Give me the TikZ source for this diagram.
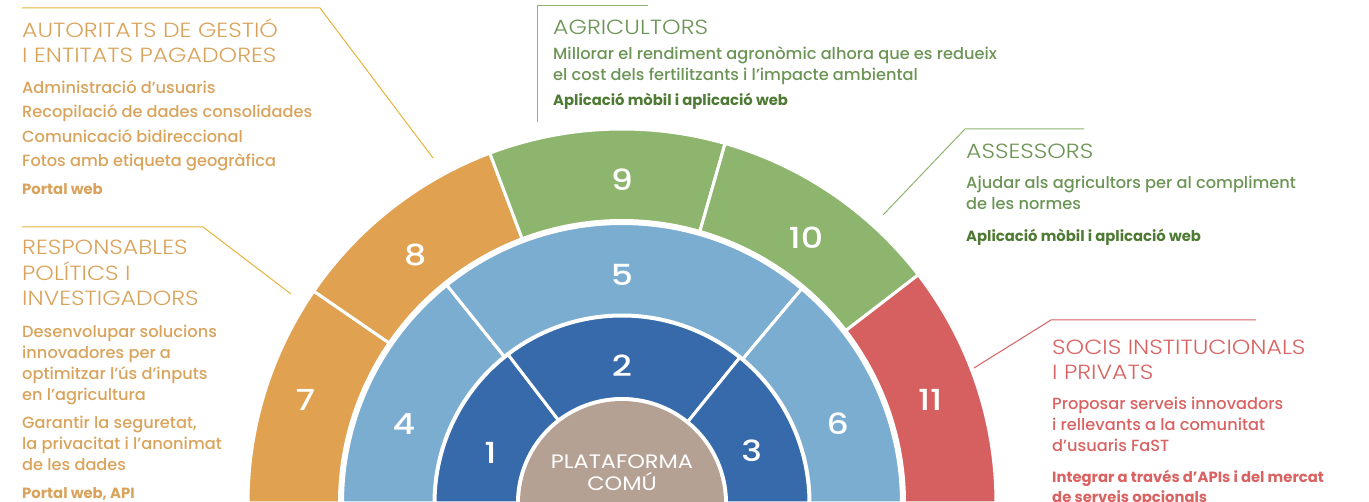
\documentclass[tikz,border=0pt]{standalone}
\usepackage{fontspec}
\setmainfont{Poppins}
\IfFontExistsTF{Poppins Light}{\newfontfamily\lightfont{Poppins Light}[FakeStretch=1.15]}{\newfontfamily\lightfont{Poppins}[FakeStretch=1.15]}
\IfFontExistsTF{Poppins Medium}{\newfontfamily\medfont{Poppins Medium}}{\newfontfamily\medfont{Poppins}}
\IfFontExistsTF{Poppins Medium}{\newfontfamily\numfont{Poppins Medium}[FakeStretch=1.2]}{\newfontfamily\numfont{Poppins}[FakeStretch=1.2]}
\newfontfamily\hubfont{Poppins}[FakeStretch=1.15]
\IfFontExistsTF{Poppins Bold}{\newfontfamily\semifont{Poppins Bold}}{\newfontfamily\semifont{Poppins}[FakeBold=2]}

\definecolor{orng}{HTML}{E0A150}
\definecolor{orngtxt}{HTML}{D9A35B}
\definecolor{orngln}{HTML}{E6B43C}
\definecolor{grn}{HTML}{8DB56E}
\definecolor{grntxt}{HTML}{6B9455}
\definecolor{grndark}{HTML}{4F7A33}
\definecolor{rd}{HTML}{D66060}
\definecolor{rdtxt}{HTML}{D96262}
\definecolor{ltblue}{HTML}{7BADD1}
\definecolor{dkblue}{HTML}{376AAB}
\definecolor{hubtan}{HTML}{B5A193}

% one piece of a ring: start angle, end angle, inner radius, outer radius, colour
\newcommand{\ringseg}[5]{\fill[#5, segline] (#1:#3) arc[start angle=#1, end angle=#2, radius=#3] -- (#2:#4) arc[start angle=#2, end angle=#1, radius=#4] -- cycle;}

\tikzset{
  segline/.style={draw=white, line width=3pt},
  num/.style={text=white, inner sep=0pt, font=\numfont\fontsize{29}{29}\selectfont},
  head/.style={anchor=base west, inner sep=0pt, align=left, font=\lightfont\fontsize{20.5}{25.5}\selectfont},
  body/.style={anchor=base west, inner sep=0pt, align=left, font=\medfont\fontsize{16.2}{21}\selectfont},
  tool/.style={anchor=base west, inner sep=0pt, align=left, font=\semifont\fontsize{14.8}{20}\selectfont},
  callout/.style={line width=1pt},
}

\begin{document}
\begin{tikzpicture}[x=1pt, y=1pt]
    \useasboundingbox (0,0) rectangle (1369,502);

    % the rings
    \begin{scope}[shift={(622,-1)}]
        \ringseg{180}{145.5}{282.5}{374}{orng}
        \ringseg{145.5}{110.7}{282.5}{374}{orng}
        \ringseg{110.7}{74}{282.5}{374}{grn}
        \ringseg{74}{37.6}{282.5}{374}{grn}
        \ringseg{37.6}{0}{282.5}{374}{rd}

        \ringseg{180}{128.8}{188}{279.5}{ltblue}
        \ringseg{128.8}{50}{188}{279.5}{ltblue}
        \ringseg{50}{0}{188}{279.5}{ltblue}

        \ringseg{180}{127.5}{104.5}{187}{dkblue}
        \ringseg{127.5}{51}{104.5}{187}{dkblue}
        \ringseg{51}{0}{104.5}{187}{dkblue}

        \fill[hubtan] (0,0) circle[radius=102];

        \node[num] (n1) at (159:141) {1};
        \node[num] (n2) at (90:137) {2};
        \node[num] (n3) at (22:140) {3};
        \node[num] (n4) at (160:232) {4};
        \node[num] (n5) at (90:228) {5};
        \node[num] (n6) at (20.3:230) {6};
        \node[num] (n7) at (162:333) {7};
        \node[num] (n8) at (129.8:323) {8};
        \node[num] (n9) at (90:323) {9};
        \node[num] (n10) at (55.3:323) {10};
        \node[num] (n11) at (18.5:325) {11};

        \node[text=white, align=center, font=\hubfont\fontsize{19.5}{22}\selectfont] (hub) at (0,30) {PLATAFORMA\\COMÚ};
    \end{scope}

    % callout lines
    \coordinate (autS) at (22,494);
    \coordinate (autK) at (320,494);
    \coordinate (autE) at (433,344);
    \draw[callout, orngln] (autS) -- (autK) -- (autE);

    \coordinate (resS) at (22,275);
    \coordinate (resK) at (203,275);
    \coordinate (resE) at (291,208);
    \draw[callout, orngln] (resS) -- (resK) -- (resE);

    \coordinate (agrS) at (537,380);
    \coordinate (agrK) at (537,496);
    \coordinate (agrE) at (648,496);
    \draw[callout, grn] (agrS) -- (agrK) -- (agrE);

    \coordinate (assS) at (883,287);
    \coordinate (assK) at (965,373);
    \coordinate (assE) at (1084,373);
    \draw[callout, grn] (assS) -- (assK) -- (assE);

    \coordinate (socS) at (974,134);
    \coordinate (socK) at (1051,182);
    \coordinate (socE) at (1256,182);
    \draw[callout, rd] (socS) -- (socK) -- (socE);

    % texts (base = last line)
    \node[head, text=orngtxt] (autT) at (22,439) {AUTORITATS DE GESTIÓ\\I ENTITATS PAGADORES};
    \node[body, text=orngtxt] (autB) at (22,335) {Administració d’usuaris\\[3.5pt]Recopilació de dades consolidades\\[3.5pt]Comunicació bidireccional\\[3.5pt]Fotos amb etiqueta geogràfica};
    \node[tool, text=orngtxt] (autW) at (22,307) {Portal web};

    \node[head, text=orngtxt] (resT) at (22,196) {RESPONSABLES\\POLÍTICS I\\INVESTIGADORS};
    \node[body, text=orngtxt] (resB) at (22,31) {Desenvolupar solucions\\innovadores per a\\optimitzar l’ús d’inputs\\en l’agricultura\\[7pt]Garantir la seguretat,\\la privacitat i l’anonimat\\de les dades};
    \node[tool, text=orngtxt] (resW) at (22,3) {Portal web, API};

    \node[head, text=grntxt] (agrT) at (553,467) {AGRICULTORS};
    \node[body, text=grntxt] (agrB) at (553,421) {Millorar el rendiment agronòmic alhora que es redueix\\el cost dels fertilitzants i l’impacte ambiental};
    \node[tool, text=grndark] (agrW) at (553,396) {Aplicació mòbil i aplicació web};

    \node[head, text=grntxt] (assT) at (966,343) {ASSESSORS};
    \node[body, text=grntxt] (assB) at (966,292) {Ajudar als agricultors per al compliment\\de les normes};
    \node[tool, text=grndark] (assW) at (966,260) {Aplicació mòbil i aplicació web};

    \node[head, text=rdtxt] (socT) at (1052,122) {SOCIS INSTITUCIONALS\\I PRIVATS};
    \node[body, text=rdtxt] (socB) at (1052,50) {Proposar serveis innovadors\\i rellevants a la comunitat\\d’usuaris FaST};
    \node[tool, text=rdtxt] (socW) at (1052,-1) {Integrar a través d’APIs i del mercat\\de serveis opcionals};
\end{tikzpicture}
\end{document}
